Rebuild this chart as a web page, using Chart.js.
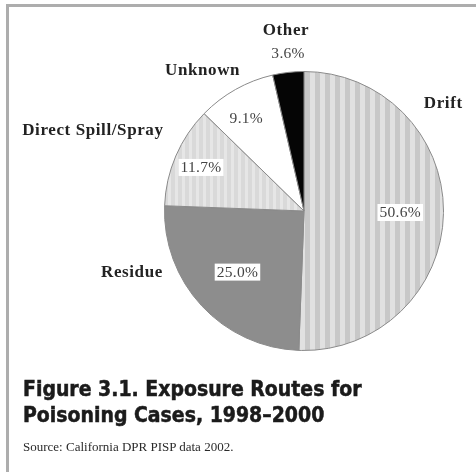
<!DOCTYPE html>
<html>
<head>
<meta charset="utf-8">
<script src="https://cdn.jsdelivr.net/npm/chart.js@4/dist/chart.umd.min.js"></script>
<style>
  html, body { margin: 0; padding: 0; background: #fff; }
  body { width: 476px; height: 472px; position: relative; overflow: hidden; }
  #frame-top { position: absolute; left: 6px; top: 4px; width: 470px; height: 3px; background: #adadad; }
  #frame-left { position: absolute; left: 6px; top: 4px; width: 3px; height: 468px; background: #adadad; }
  #chart { position: absolute; left: 0; top: 0; }
  #title {
    position: absolute; left: 23px; top: 376px;
    font-family: "DejaVu Sans Condensed", "DejaVu Sans", sans-serif; font-weight: bold; font-size: 21px;
    line-height: 26px; color: #1b1b1b; white-space: nowrap;
    -webkit-text-stroke: 0.5px #1b1b1b;
  }
  #source {
    position: absolute; left: 23px; top: 439px; line-height: 15px;
    font-family: "Liberation Serif", serif; font-size: 13px; color: #2a2a2a; white-space: nowrap;
  }
</style>
</head>
<body>
<div id="frame-top"></div>
<div id="frame-left"></div>
<canvas id="chart" width="476" height="472"></canvas>
<div id="title">Figure 3.1. Exposure Routes for<br>Poisoning Cases, 1998–2000</div>
<div id="source">Source: California DPR PISP data 2002.</div>
<script>
// data
const routes = ["Drift", "Residue", "Direct Spill/Spray", "Unknown", "Other"];
const shares = [50.6, 25.0, 11.7, 9.1, 3.6];
const shareLabels = ["50.6%", "25.0%", "11.7%", "9.1%", "3.6%"];

// label placement, polar: degrees clockwise from top, radius as a fraction of the pie
const nameSpots = [[52.4, 1.26], [250.3, 1.31], [290.9, 1.62], [324.1, 1.24], [354.3, 1.3]];
const pctSpots = [[91.2, 0.69], [227.2, 0.65], [292.7, 0.8], [328, 0.78], [354.2, 1.13]];
const pctBoxed = [true, true, true, false, false];

// striped fills
function stripes(base, line, size, lineW) {
  const c = document.createElement("canvas");
  c.width = size;
  c.height = size;
  const g = c.getContext("2d");
  g.fillStyle = base;
  g.fillRect(0, 0, size, size);
  g.fillStyle = line;
  g.fillRect(0, 0, lineW, size);
  return g.createPattern(c, "repeat");
}

const fills = [
  stripes("#c8c8c8", "#e1e1e1", 10, 5),
  "#8d8d8d",
  stripes("#d9d9d9", "#e6e6e6", 7, 3),
  "#ffffff",
  "#050505",
];

const pieLabels = {
  id: "pieLabels",
  afterDatasetsDraw(chart) {
    const ctx = chart.ctx;
    const arcs = chart.getDatasetMeta(0).data;
    const cx = arcs[0].x, cy = arcs[0].y, r = arcs[0].outerRadius;
    const at = (spot) => {
      const a = (spot[0] * Math.PI) / 180;
      return [cx + Math.sin(a) * r * spot[1], cy - Math.cos(a) * r * spot[1]];
    };
    ctx.save();
    ctx.textAlign = "center";
    ctx.textBaseline = "middle";
    routes.forEach((name, i) => {
      const [nx, ny] = at(nameSpots[i]);
      ctx.font = "bold 17px 'Liberation Serif', serif";
      ctx.letterSpacing = "0.6px";
      ctx.fillStyle = "#222";
      ctx.fillText(name, nx, ny);

      const [px, py] = at(pctSpots[i]);
      ctx.font = "15.5px 'Liberation Serif', serif";
      ctx.letterSpacing = "0.3px";
      if (pctBoxed[i]) {
        const w = ctx.measureText(shareLabels[i]).width;
        ctx.fillStyle = "#fff";
        ctx.fillRect(px - w / 2 - 2, py - 9, w + 4, 17);
      }
      ctx.fillStyle = "#444";
      ctx.fillText(shareLabels[i], px, py);
    });
    ctx.restore();
  },
};

const pieChart = new Chart(document.getElementById("chart"), {
  type: "pie",
  data: {
    labels: routes,
    datasets: [
      {
        data: shares,
        backgroundColor: fills,
        borderColor: "#8a8a8a",
        borderWidth: 1,
        hoverOffset: 0,
        offset: 0,
      },
    ],
  },
  options: {
    responsive: false,
    maintainAspectRatio: false,
    animation: false,
    events: [],
    layout: { padding: { left: 164, right: 32, top: 71, bottom: 121 } },
    plugins: {
      legend: { display: false },
      tooltip: { enabled: false },
    },
  },
  plugins: [pieLabels],
});
</script>
</body>
</html>
